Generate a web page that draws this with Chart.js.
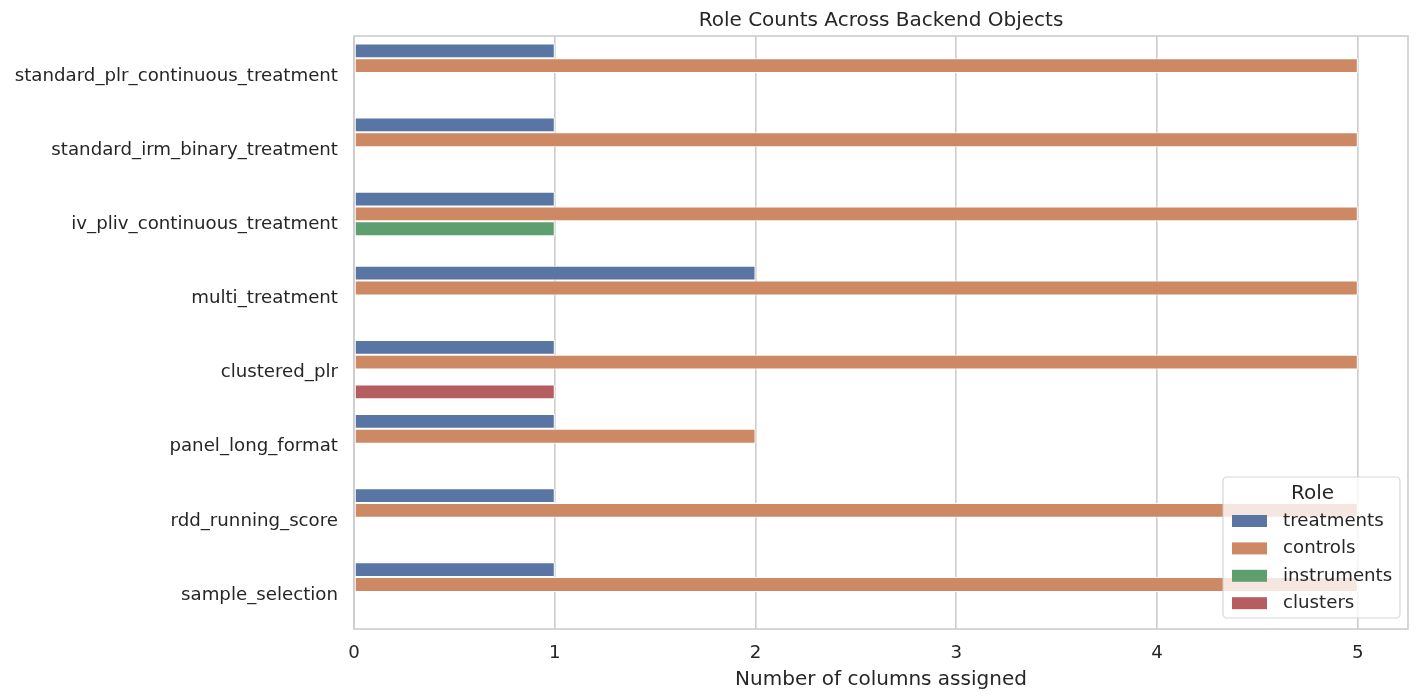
<!DOCTYPE html>
<html>
<head>
<meta charset="utf-8">
<script src="https://cdn.jsdelivr.net/npm/chart.js@4"></script>
<style>
html,body{margin:0;padding:0;background:#fff;}
#wrap{width:1420px;height:700px;}
</style>
</head>
<body>
<div id="wrap"><canvas id="c" width="1420" height="700"></canvas></div>
<script>
const categories = ["standard_plr_continuous_treatment","standard_irm_binary_treatment","iv_pliv_continuous_treatment","multi_treatment","clustered_plr","panel_long_format","rdd_running_score","sample_selection"];
const treatments  = [1, 1, 1, 2, 1, 1, 1, 1];
const controls    = [5, 5, 5, 5, 5, 2, 5, 5];
const instruments = [null, null, 1, null, null, null, null, null];
const clusters    = [null, null, null, null, 1, null, null, null];
const seriesNames = ["treatments","controls","instruments","clusters"];
const xTicks = [0, 1, 2, 3, 4, 5];
const titleText = "Role Counts Across Backend Objects";
const xTitle = "Number of columns assigned";
const legendTitle = "Role";

const colors = ["#5975a4","#cc8963","#5f9e6e","#b55d60"];
const FONT = "'DejaVu Sans', sans-serif";
const TXT = "#262626";

const seriesData = [treatments, controls, instruments, clusters];

const framePlugin = {
  id: 'frame',
  afterDatasetsDraw(chart) {
    const ctx = chart.ctx, a = chart.chartArea;
    ctx.save();
    ctx.strokeStyle = '#cccccc';
    ctx.lineWidth = 1.6;
    ctx.strokeRect(a.left, a.top, a.right - a.left, a.bottom - a.top);
    // title
    ctx.fillStyle = TXT;
    ctx.font = "20px " + FONT;
    ctx.textAlign = 'center';
    ctx.textBaseline = 'middle';
    ctx.fillText(titleText, (a.left + a.right) / 2, 21);
    // legend
    const bx = 1223, by = 477, bw = 177, bh = 141, r = 4;
    ctx.beginPath();
    ctx.moveTo(bx + r, by);
    ctx.arcTo(bx + bw, by, bx + bw, by + bh, r);
    ctx.arcTo(bx + bw, by + bh, bx, by + bh, r);
    ctx.arcTo(bx, by + bh, bx, by, r);
    ctx.arcTo(bx, by, bx + bw, by, r);
    ctx.closePath();
    ctx.fillStyle = 'rgba(255,255,255,0.8)';
    ctx.fill();
    ctx.strokeStyle = 'rgba(204,204,204,0.8)';
    ctx.lineWidth = 1.2;
    ctx.stroke();
    ctx.fillStyle = TXT;
    ctx.font = "20px " + FONT;
    ctx.textAlign = 'center';
    ctx.fillText(legendTitle, bx + bw / 2 + 1, 494);
    ctx.font = "18.2px " + FONT;
    ctx.textAlign = 'left';
    seriesNames.forEach((n, i) => {
      const cy = 521 + i * 27.4;
      ctx.fillStyle = colors[i];
      ctx.fillRect(1232, cy - 6, 35, 12);
      ctx.fillStyle = TXT;
      ctx.fillText(n, 1283, cy);
    });
    ctx.restore();
  }
};

new Chart(document.getElementById('c'), {
  type: 'bar',
  data: {
    labels: categories,
    datasets: seriesNames.map((n, i) => ({
      label: n,
      data: seriesData[i],
      backgroundColor: colors[i],
      borderColor: '#ffffff',
      borderWidth: 1,
      borderSkipped: false,
      categoryPercentage: 0.8,
      barPercentage: 1.0
    }))
  },
  options: {
    indexAxis: 'y',
    responsive: false,
    animation: false,
    devicePixelRatio: 1,
    layout: { padding: { top: 36, right: 12, bottom: 0, left: 0 } },
    plugins: { legend: { display: false }, title: { display: false }, tooltip: { enabled: false } },
    scales: {
      x: {
        type: 'linear',
        min: 0, max: 5.25,
        afterBuildTicks(s) { s.ticks = xTicks.map(v => ({ value: v })); },
        afterFit(s) { s.height = 71; },
        grid: { color: '#cccccc', lineWidth: 1.6, drawTicks: false },
        border: { display: false },
        ticks: { color: TXT, font: { family: FONT, size: 18.2 }, padding: 13 },
        title: { display: true, text: xTitle, color: TXT, font: { family: FONT, size: 20 }, padding: { top: 0, bottom: 8 } }
      },
      y: {
        afterFit(s) { s.width = 354; },
        grid: { display: false, drawTicks: false },
        border: { display: false },
        ticks: { color: TXT, font: { family: FONT, size: 18.2 }, padding: 16, labelOffset: 3 }
      }
    }
  },
  plugins: [framePlugin]
});
</script>
</body>
</html>
